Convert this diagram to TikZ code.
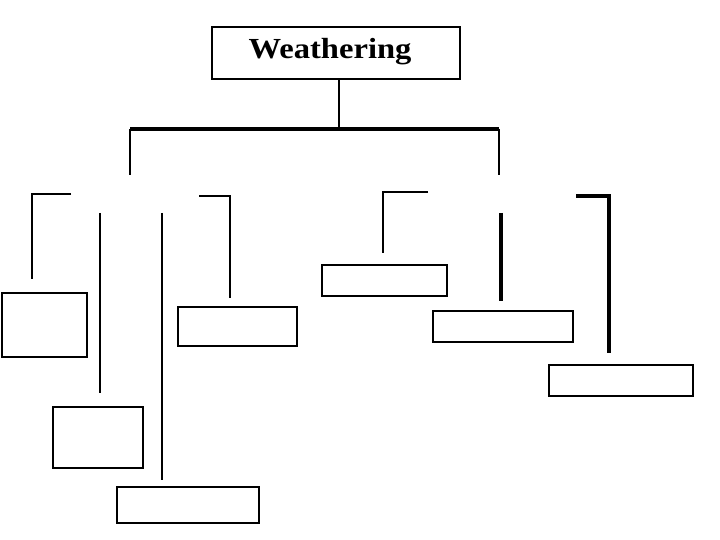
\documentclass[tikz,border=0pt]{standalone}
\usepackage{fontspec}
\setmainfont{Liberation Serif}
\usetikzlibrary{fit}
\tikzset{
  box/.style={draw, line width=1.6pt, inner sep=0pt},
  title/.style={font=\bfseries\fontsize{23}{28}\selectfont, inner sep=0pt, anchor=base,
    xscale=1.12, transform shape},
  thinline/.style={line width=0.8pt},
  midline/.style={line width=1.6pt},
  thickline/.style={line width=2.4pt}
}
\begin{document}
\begin{tikzpicture}[x=0.02778cm, y=-0.02778cm]
      \useasboundingbox (0,0) rectangle (720,540);
      \node[box, line width=1.3pt, fit={(212,27) (460,79)}] (w) {};
      \node[title] (wt) at (330,59) {Weathering};
      \node[box, fit={(2,293) (87,357)}] (m1) {};
      \node[box, fit={(53,407) (143,468)}] (m2) {};
      \node[box, fit={(117,487) (259,523)}] (m3) {};
      \node[box, line width=2pt, fit={(178,307) (297,346)}] (m4) {};
      \node[box, line width=1.4pt, fit={(322,265) (447,296)}] (c1) {};
      \node[box, line width=2.2pt, fit={(433,311) (573,342)}] (c2) {};
      \node[box, fit={(549,365) (693,396)}] (c3) {};
      \path
        (339,129) coordinate (top)
        (130,129) coordinate (barL)
        (499,129) coordinate (barR)
        (130,175) coordinate (dropL)
        (499,175) coordinate (dropR)
        (71,194) coordinate (a1)
        (32,194) coordinate (a2)
        (32,279) coordinate (a3)
        (100,213) coordinate (b1)
        (100,393) coordinate (b2)
        (162,213) coordinate (k1)
        (162,480) coordinate (k2)
        (199,196) coordinate (d1)
        (230,196) coordinate (d2)
        (230,298) coordinate (d3)
        (428,192) coordinate (e1)
        (383,192) coordinate (e2)
        (383,253) coordinate (e3)
        (501,213) coordinate (f1)
        (501,301) coordinate (f2)
        (576,196) coordinate (g1)
        (609,196) coordinate (g2)
        (609,353) coordinate (g3);
      \begin{scope}[-]
        \draw[thinline] (w.south -| top) to (top);
        \draw[thickline] (barL) to (barR);
        \draw[midline] (barL) to (dropL);
        \draw[midline] (barR) to (dropR);
        \draw[midline] (a1) -- (a2) -- (a3);
        \draw[thinline] (b1) to (b2);
        \draw[midline] (k1) to (k2);
        \draw[midline] (d1) -- (d2) -- (d3);
        \draw[midline, line width=1.3pt] (e1) -- (e2) -- (e3);
        \draw[thickline] (f1) to (f2);
        \draw[thickline] (g1) -- (g2) -- (g3);
      \end{scope}
    \end{tikzpicture}
\end{document}
